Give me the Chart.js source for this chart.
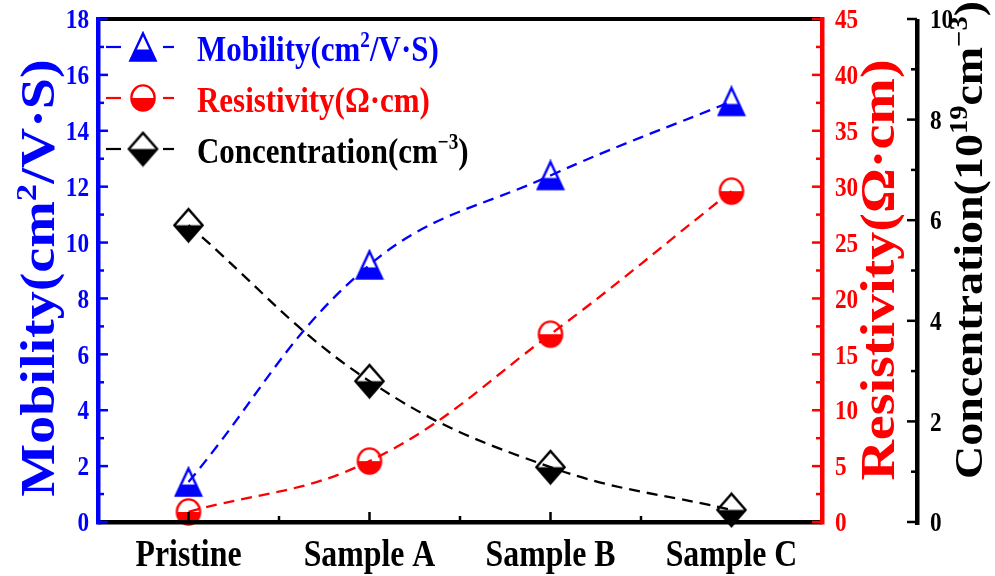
<!DOCTYPE html>
<html>
<head>
<meta charset="utf-8">
<script src="https://cdn.jsdelivr.net/npm/chart.js@4.4.0/dist/chart.umd.min.js"></script>
<style>
  html, body { margin: 0; padding: 0; background: #fff; }
  canvas { display: block; }
</style>
</head>
<body>
<canvas id="chart" width="995" height="576"></canvas>
<script>
// categories and measured values
const samples = ['Pristine', 'Sample A', 'Sample B', 'Sample C'];
const mobility = [1.43, 9.2, 12.4, 15.05];        // cm2/V.S
const resistivity = [0.9, 5.45, 16.8, 29.6];      // ohm.cm
const concentration = [5.9, 2.8, 1.09, 0.24];     // 1e19 cm-3

// tick labels for the three y axes
const mobilityTicks = [0, 2, 4, 6, 8, 10, 12, 14, 16, 18];
const resistivityTicks = [0, 5, 10, 15, 20, 25, 30, 35, 40, 45];
const concentrationTicks = [0, 2, 4, 6, 8, 10];

const BLUE = '#0000ff';
const RED = '#ff0000';
const BLACK = '#000000';
const FONT = '"Liberation Serif", "Times New Roman", serif';
const SQUEEZE = 0.86;   // text is a bit narrow in this figure
const AXIS3_X = 917;    // offset concentration axis
const TICK_FONT = 27;

// half filled markers (bottom part filled, top part open)
function makeMarker(kind, color, w, h, split) {
  const c = document.createElement('canvas');
  c.width = w; c.height = h;
  const g = c.getContext('2d');
  const lw = 2.4;
  const p = new Path2D();
  if (kind === 'tri') {
    p.moveTo(w / 2, lw); p.lineTo(w - lw, h - lw); p.lineTo(lw, h - lw); p.closePath();
  } else if (kind === 'circle') {
    p.ellipse(w / 2, h / 2, w / 2 - lw, h / 2 - lw, 0, 0, Math.PI * 2);
  } else {
    p.moveTo(w / 2, lw); p.lineTo(w - lw, h / 2); p.lineTo(w / 2, h - lw); p.lineTo(lw, h / 2); p.closePath();
  }
  g.save();
  g.beginPath(); g.rect(0, h * split, w, h); g.clip();
  g.fillStyle = color; g.fill(p);
  g.restore();
  g.lineWidth = lw; g.strokeStyle = color; g.lineJoin = 'miter';
  g.stroke(p);
  return c;
}

const triMarker = makeMarker('tri', BLUE, 30, 32, 0.58);
const circMarker = makeMarker('circle', RED, 28, 30, 0.5);
const diaMarker = makeMarker('dia', BLACK, 33, 37, 0.5);

// text with superscripts: runs = [{t, sup}]
function runsWidth(ctx, runs, size) {
  let w = 0;
  runs.forEach(r => {
    ctx.font = 'bold ' + (r.sup ? size * 0.62 : size) + 'px ' + FONT;
    w += ctx.measureText(r.t).width;
  });
  return w;
}
function drawRuns(ctx, runs, size, x0) {
  let x = x0;
  runs.forEach(r => {
    const s = r.sup ? size * 0.62 : size;
    ctx.font = 'bold ' + s + 'px ' + FONT;
    ctx.fillText(r.t, x, r.sup ? -size * 0.38 : 0);
    x += ctx.measureText(r.t).width;
  });
}
function hText(ctx, runs, x, y, size, color, align) {
  ctx.save();
  ctx.translate(x, y);
  ctx.scale(SQUEEZE, 1);
  ctx.fillStyle = color;
  ctx.textBaseline = 'alphabetic';
  ctx.textAlign = 'left';
  const w = runsWidth(ctx, runs, size);
  const x0 = align === 'right' ? -w : align === 'center' ? -w / 2 : 0;
  drawRuns(ctx, runs, size, x0);
  ctx.restore();
}
function vTitle(ctx, runs, cx, cy, size, color) {
  ctx.save();
  ctx.translate(cx, cy);
  ctx.rotate(-Math.PI / 2);
  ctx.scale(1, SQUEEZE);
  ctx.translate(0, size * 0.33);
  ctx.fillStyle = color;
  ctx.textAlign = 'left';
  ctx.textBaseline = 'alphabetic';
  const w = runsWidth(ctx, runs, size);
  drawRuns(ctx, runs, size, -w / 2);
  ctx.restore();
}

function useTicks(list) {
  return scale => { scale.ticks = list.map(v => ({ value: v })); };
}

// axes, ticks, labels and titles
const axesPlugin = {
  id: 'axesPlugin',
  afterDatasetsDraw(chart) {
    const { ctx, chartArea: { left, right, top, bottom }, scales } = chart;
    const x = scales.x, yM = scales.yMob, yR = scales.yRes, yC = scales.yCon;
    const lift = TICK_FONT * 0.34;
    ctx.save();

    // frame top and bottom
    ctx.fillStyle = BLACK;
    ctx.fillRect(left, top - 2, right - left, 4);
    ctx.fillRect(left, bottom - 2, right - left, 4.5);

    // category ticks pointing up
    const cx = samples.map((s, i) => x.getPixelForValue(i));
    cx.forEach((px, i) => {
      ctx.fillRect(px - 1.25, bottom - 10, 2.5, 10);
      if (i < cx.length - 1) ctx.fillRect((px + cx[i + 1]) / 2 - 1.25, bottom - 6, 2.5, 6);
    });
    samples.forEach((s, i) => hText(ctx, [{ t: s }], cx[i], 566, 37, BLACK, 'center'));

    // left axis (mobility)
    ctx.fillStyle = BLUE;
    ctx.fillRect(left - 2, top - 2, 4.5, bottom - top + 4.5);
    yM.ticks.forEach((t, i) => {
      const py = yM.getPixelForValue(t.value);
      ctx.fillRect(left, py - 1.25, 10, 2.5);
      if (i < yM.ticks.length - 1) {
        const my = yM.getPixelForValue((t.value + yM.ticks[i + 1].value) / 2);
        ctx.fillRect(left, my - 1.25, 6, 2.5);
      }
      hText(ctx, [{ t: String(t.value) }], left - 9, py + lift, TICK_FONT, BLUE, 'right');
    });

    // right axis (resistivity)
    ctx.fillStyle = RED;
    ctx.fillRect(right - 2, top - 2, 4.5, bottom - top + 4.5);
    yR.ticks.forEach((t, i) => {
      const py = yR.getPixelForValue(t.value);
      ctx.fillRect(right - 10, py - 1.25, 10, 2.5);
      if (i < yR.ticks.length - 1) {
        const my = yR.getPixelForValue((t.value + yR.ticks[i + 1].value) / 2);
        ctx.fillRect(right - 6, my - 1.25, 6, 2.5);
      }
      hText(ctx, [{ t: String(t.value) }], right + 13, py + lift, TICK_FONT, RED, 'left');
    });

    // offset axis (concentration)
    ctx.fillStyle = BLACK;
    ctx.fillRect(AXIS3_X - 2, top, 4.5, bottom - top + 3);
    yC.ticks.forEach((t, i) => {
      const py = yC.getPixelForValue(t.value);
      ctx.fillRect(AXIS3_X - 10, py - 1.25, 10, 2.5);
      if (i < yC.ticks.length - 1) {
        const my = yC.getPixelForValue((t.value + yC.ticks[i + 1].value) / 2);
        ctx.fillRect(AXIS3_X - 6, my - 1.25, 6, 2.5);
      }
      hText(ctx, [{ t: String(t.value) }], AXIS3_X + 13, py + lift, TICK_FONT, BLACK, 'left');
    });

    // axis titles
    vTitle(ctx, [{ t: 'Mobility(cm' }, { t: '2', sup: true }, { t: '/V·S)' }], 38, 278, 56, BLUE);
    vTitle(ctx, [{ t: 'Resistivity(Ω·cm)' }], 878, 270, 56, RED);
    vTitle(ctx, [{ t: 'Concentration(10' }, { t: '19', sup: true }, { t: 'cm' }, { t: '−3', sup: true }, { t: ')' }], 969, 240, 46, BLACK);

    ctx.restore();
  }
};

// legend in the upper left of the plot
const legendItems = [
  { runs: [{ t: 'Mobility(cm' }, { t: '2', sup: true }, { t: '/V·S)' }], color: BLUE, marker: triMarker, y: 47 },
  { runs: [{ t: 'Resistivity(Ω·cm)' }], color: RED, marker: circMarker, y: 98 },
  { runs: [{ t: 'Concentration(cm' }, { t: '−3', sup: true }, { t: ')' }], color: BLACK, marker: diaMarker, y: 149 }
];
const legendPlugin = {
  id: 'legendPlugin',
  afterDraw(chart) {
    const ctx = chart.ctx;
    legendItems.forEach(it => {
      ctx.fillStyle = it.color;
      ctx.fillRect(106, it.y - 1.1, 15, 2.2);
      ctx.fillRect(163, it.y - 1.1, 11, 2.2);
      ctx.drawImage(it.marker, 143 - it.marker.width / 2, it.y - it.marker.height / 2);
      hText(ctx, it.runs, 197, it.y + 14, 36, it.color, 'left');
    });
  }
};

function series(label, data, axis, color, marker) {
  return {
    label: label,
    data: data,
    yAxisID: axis,
    borderColor: color,
    backgroundColor: color,
    borderWidth: 2.3,
    borderDash: [11, 7],
    tension: 0.4,
    fill: false,
    pointStyle: marker,
    pointRadius: 15,
    clip: false
  };
}

new Chart(document.getElementById('chart'), {
  type: 'line',
  data: {
    labels: samples,
    datasets: [
      series('Concentration', concentration, 'yCon', BLACK, diaMarker),
      series('Resistivity', resistivity, 'yRes', RED, circMarker),
      series('Mobility', mobility, 'yMob', BLUE, triMarker)
    ]
  },
  options: {
    responsive: false,
    animation: false,
    layout: { padding: { left: 98, right: 173, top: 19, bottom: 54 } },
    plugins: { legend: { display: false }, tooltip: { enabled: false } },
    scales: {
      x: { type: 'category', offset: true, display: false },
      yMob: { type: 'linear', min: 0, max: 18, display: false, afterBuildTicks: useTicks(mobilityTicks) },
      yRes: { type: 'linear', min: 0, max: 45, display: false, afterBuildTicks: useTicks(resistivityTicks) },
      yCon: { type: 'linear', min: 0, max: 10, display: false, afterBuildTicks: useTicks(concentrationTicks) }
    }
  },
  plugins: [axesPlugin, legendPlugin]
});
</script>
</body>
</html>
